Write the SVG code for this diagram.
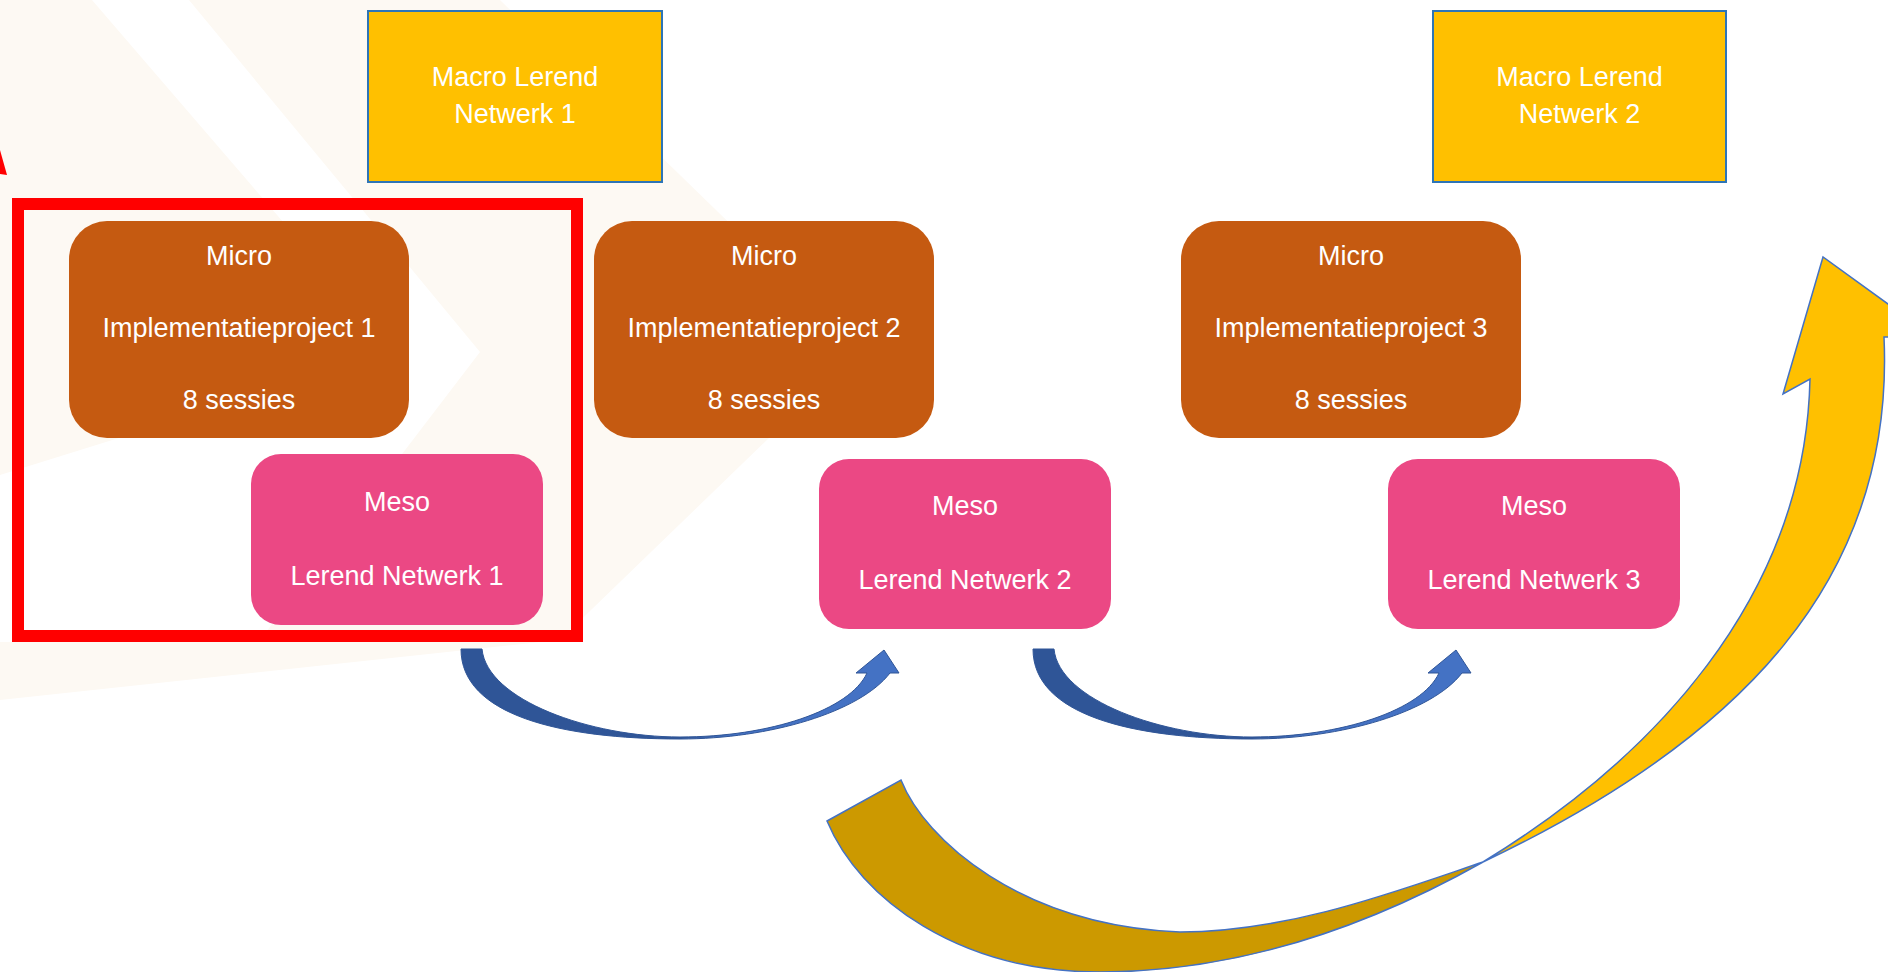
<svg xmlns="http://www.w3.org/2000/svg" width="1888" height="972" viewBox="0 0 1888 972">
  <style>
    .t { font-family: "Liberation Sans", Arial, sans-serif; font-size: 27px; fill: #ffffff; text-anchor: middle; }
    .macro { fill: #FFC000; stroke: #2E75B6; stroke-width: 2; }
    .micro { fill: #C55A11; }
    .meso { fill: #EB4884; }
    .gold { stroke: #4472C4; stroke-width: 1.5; stroke-linejoin: miter; }
  </style>
  <defs>
    <linearGradient id="blueGrad" x1="0" y1="0" x2="1" y2="0">
      <stop offset="0" stop-color="#2F5597"/>
      <stop offset="0.5" stop-color="#2F5597"/>
      <stop offset="0.62" stop-color="#4472C4"/>
      <stop offset="1" stop-color="#4472C4"/>
    </linearGradient>
    <path id="blueArrow" d="M461,649 C461,715 560,739 680,739 C770,739 860,712 890,673 L899,673 L884,650 L856,673 L867,673 C850,710 770,737 680,737 C590,737 487,700 482,649 Z"/>
  </defs>

  <rect x="0" y="0" width="1888" height="972" fill="#ffffff"/>
  <g id="background">
    <polygon points="0,0 500,0 860,350 560,640 0,700" fill="#FDF9F3"/>
    <polygon points="92,0 189,0 480,352 260,640 0,642 0,475 395,352" fill="#ffffff"/>
    <polygon points="0,150 7,175 0,174" fill="#FF0000"/>
  </g>

  <g id="connectors">
    <use href="#blueArrow" fill="url(#blueGrad)" stroke="#2F5597" stroke-width="1"/>
    <use href="#blueArrow" transform="translate(572,0)" fill="url(#blueGrad)" stroke="#2F5597" stroke-width="1"/>
    <g id="gold-arrow">
      <path class="gold" fill="#CC9900" d="M827,821 L901,780 C925,840 1020,925 1180,932 C1290,932 1400,890 1483,862 C1380,920 1250,972 1100,972 C960,972 860,900 827,821 Z"/>
      <path class="gold" fill="#FFC000" d="M1483,862 C1650,760 1805,600 1810,379 L1783,394 L1823,257 L1935,338 L1884,337 C1895,580 1740,740 1483,862 Z"/>
    </g>
  </g>

  <g id="highlight">
    <rect x="18" y="204" width="559" height="432" fill="none" stroke="#FF0000" stroke-width="12"/>
  </g>

  <g id="macro1">
    <rect class="macro" x="368" y="11" width="294" height="171"/>
    <text class="t" x="515" y="86">Macro Lerend</text>
    <text class="t" x="515" y="123">Netwerk 1</text>
  </g>
  <g id="macro2">
    <rect class="macro" x="1433" y="11" width="293" height="171"/>
    <text class="t" x="1579.5" y="86">Macro Lerend</text>
    <text class="t" x="1579.5" y="123">Netwerk 2</text>
  </g>

  <g id="micro1">
    <rect class="micro" x="69" y="221" width="340" height="217" rx="38" ry="38"/>
    <text class="t" x="239" y="265">Micro</text>
    <text class="t" x="239" y="337">Implementatieproject 1</text>
    <text class="t" x="239" y="409">8 sessies</text>
  </g>
  <g id="micro2">
    <rect class="micro" x="594" y="221" width="340" height="217" rx="38" ry="38"/>
    <text class="t" x="764" y="265">Micro</text>
    <text class="t" x="764" y="337">Implementatieproject 2</text>
    <text class="t" x="764" y="409">8 sessies</text>
  </g>
  <g id="micro3">
    <rect class="micro" x="1181" y="221" width="340" height="217" rx="38" ry="38"/>
    <text class="t" x="1351" y="265">Micro</text>
    <text class="t" x="1351" y="337">Implementatieproject 3</text>
    <text class="t" x="1351" y="409">8 sessies</text>
  </g>

  <g id="meso1">
    <rect class="meso" x="251" y="454" width="292" height="171" rx="30" ry="30"/>
    <text class="t" x="397" y="511">Meso</text>
    <text class="t" x="397" y="585">Lerend Netwerk 1</text>
  </g>
  <g id="meso2">
    <rect class="meso" x="819" y="459" width="292" height="170" rx="30" ry="30"/>
    <text class="t" x="965" y="515">Meso</text>
    <text class="t" x="965" y="589">Lerend Netwerk 2</text>
  </g>
  <g id="meso3">
    <rect class="meso" x="1388" y="459" width="292" height="170" rx="30" ry="30"/>
    <text class="t" x="1534" y="515">Meso</text>
    <text class="t" x="1534" y="589">Lerend Netwerk 3</text>
  </g>
</svg>
